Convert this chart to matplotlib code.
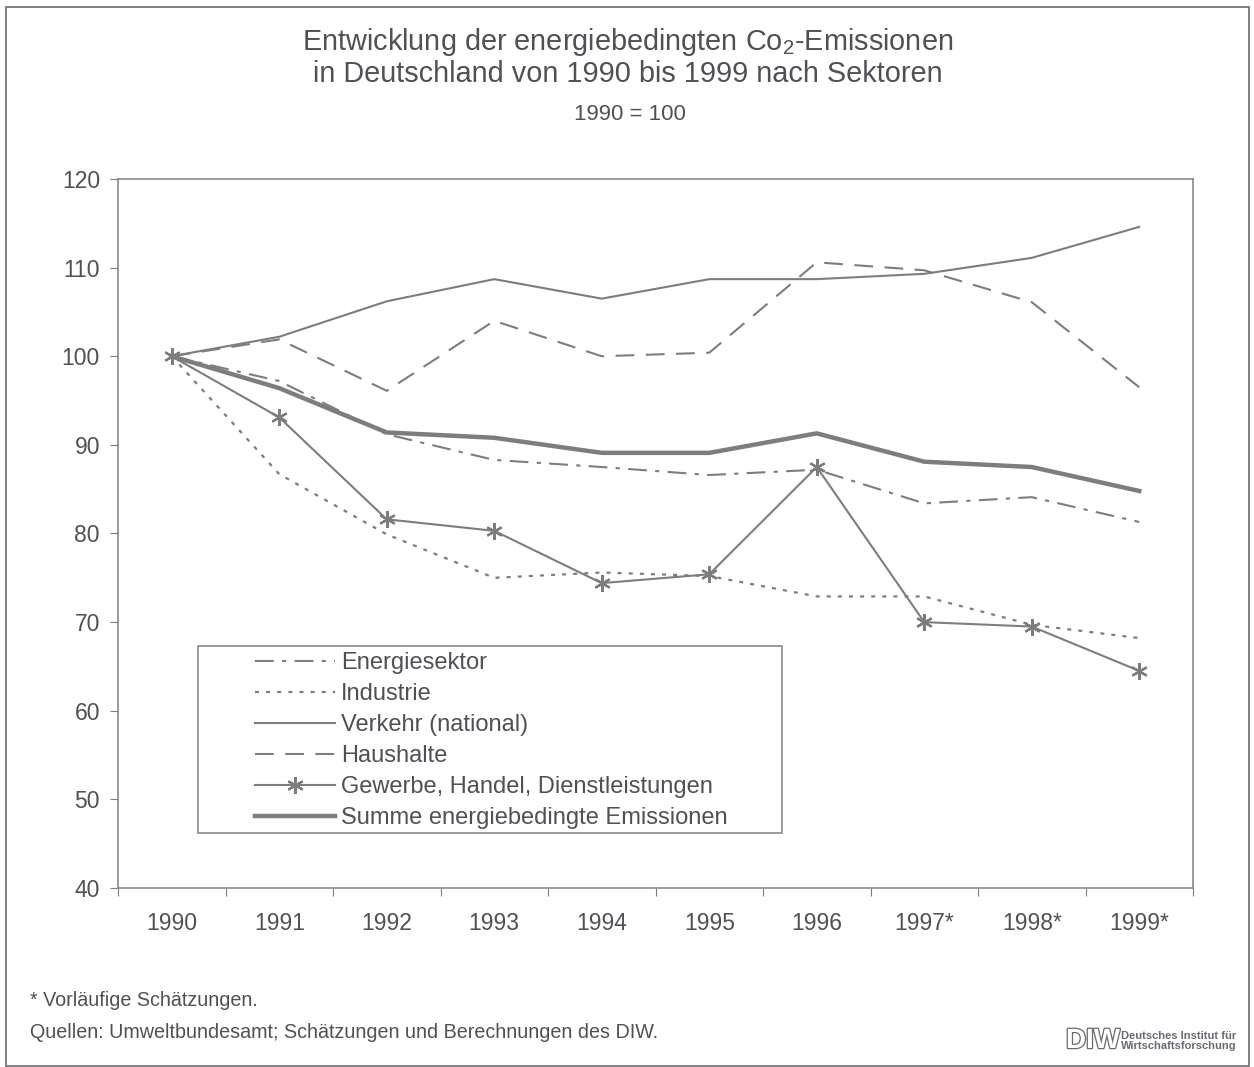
import matplotlib.pyplot as plt
import matplotlib.patheffects as pe
from matplotlib.patches import Rectangle
import numpy as np

plt.rcParams['font.family'] = ['Liberation Sans', 'DejaVu Sans']
plt.rcParams['mathtext.fontset'] = 'custom'
plt.rcParams['mathtext.rm'] = 'Liberation Sans'

years = ['1990', '1991', '1992', '1993', '1994', '1995', '1996', '1997*', '1998*', '1999*']

energiesektor = [100, 97.2, 91.2, 88.3, 87.5, 86.6, 87.2, 83.4, 84.1, 81.3]
industrie = [100, 86.7, 79.9, 75.0, 75.6, 75.2, 72.9, 72.9, 69.7, 68.2]
verkehr = [100, 102.2, 106.2, 108.7, 106.5, 108.7, 108.7, 109.3, 111.1, 114.6]
haushalte = [100, 101.9, 96.1, 104.0, 100.0, 100.4, 110.6, 109.7, 106.1, 96.5]
gewerbe = [100, 93.1, 81.6, 80.3, 74.4, 75.4, 87.5, 70.0, 69.5, 64.5]
summe = [100, 96.4, 91.4, 90.8, 89.1, 89.1, 91.3, 88.1, 87.5, 84.8]

line_col = '#7d7d80'
text_col = '#505055'

fig = plt.figure(figsize=(12.54, 10.67), dpi=100)
ax = fig.add_axes([118/1254, 1 - 888/1067, (1193 - 118)/1254, (888 - 179)/1067])

x = np.arange(len(years))
ax.plot(x, energiesektor, color=line_col, lw=1.5, dashes=(9, 4, 2, 4), label='Energiesektor')
ax.plot(x, industrie, color=line_col, lw=1.6, dashes=(1.8, 3.2), label='Industrie')
ax.plot(x, verkehr, color=line_col, lw=1.5, label='Verkehr (national)')
ax.plot(x, haushalte, color=line_col, lw=1.5, dashes=(9, 5.5), label='Haushalte')
ax.plot(x, gewerbe, color=line_col, lw=1.5, marker=(6, 2, 0), markersize=12,
        markeredgewidth=1.6, label='Gewerbe, Handel, Dienstleistungen')
ax.plot(x, summe, color=line_col, lw=3.2, label='Summe energiebedingte Emissionen')

ax.set_xlim(-0.5, len(years) - 0.5)
ax.set_ylim(40, 120)
ax.set_yticks(range(40, 121, 10))
ax.set_xticks(np.arange(-0.5, len(years)), labels=[])
ax.set_xticks(x, labels=years, minor=True)
ax.tick_params(axis='x', which='major', direction='out', length=6, color=line_col)
ax.tick_params(axis='x', which='minor', length=0, pad=17, labelsize=16.5, labelcolor=text_col)
ax.tick_params(axis='y', direction='out', length=6, pad=7, color=line_col,
               labelsize=16.5, labelcolor=text_col)
for s in ax.spines.values():
    s.set_color('#8a8a8e')
    s.set_linewidth(1.2)

# legend box
ax.add_patch(Rectangle((80/1075, 55/709), 584/1075, 187/709, transform=ax.transAxes,
                       fill=False, edgecolor='#8a8a8e', lw=1.2))
leg = ax.legend(loc='upper left', bbox_to_anchor=(137/1075, 236/709), frameon=False,
                fontsize=17, handlelength=3.4, handletextpad=0.25, labelspacing=0.38,
                borderpad=0, borderaxespad=0, numpoints=1)
for t in leg.get_texts():
    t.set_color(text_col)

fig.text(628/1254, 1 - 42/1067, 'Entwicklung der energiebedingten Co$_2$-Emissionen',
         ha='center', va='center', fontsize=20.8, color=text_col)
fig.text(628/1254, 1 - 74/1067, 'in Deutschland von 1990 bis 1999 nach Sektoren',
         ha='center', va='center', fontsize=20.8, color=text_col)
fig.text(630/1254, 1 - 115/1067, '1990 = 100', ha='center', va='center',
         fontsize=16, color=text_col)

fig.text(30/1254, 1 - 1000/1067, '* Vorläufige Schätzungen.', ha='left', va='center',
         fontsize=14.2, color=text_col)
fig.text(30/1254, 1 - 1032/1067, 'Quellen: Umweltbundesamt; Schätzungen und Berechnungen des DIW.',
         ha='left', va='center', fontsize=14.2, color=text_col)

# DIW logo
fig.text(1066/1254, 1 - 1041/1067, 'DIW', ha='left', va='center', fontsize=20,
         fontweight='bold', color='white',
         path_effects=[pe.withStroke(linewidth=1.8, foreground='#6a6a70')])
fig.text(1121/1254, 1 - 1041/1067, 'Deutsches Institut für\nWirtschaftsforschung',
         ha='left', va='center', fontsize=8, fontweight='bold', color='#6a6a70',
         linespacing=0.95)

# outer frame
fig.add_artist(Rectangle((6/1254, 1/1067), 1243/1254, 1059/1067, transform=fig.transFigure,
                         fill=False, edgecolor='#6a6a70', lw=1.2))

fig.savefig('out.png', dpi=100, facecolor='white')
